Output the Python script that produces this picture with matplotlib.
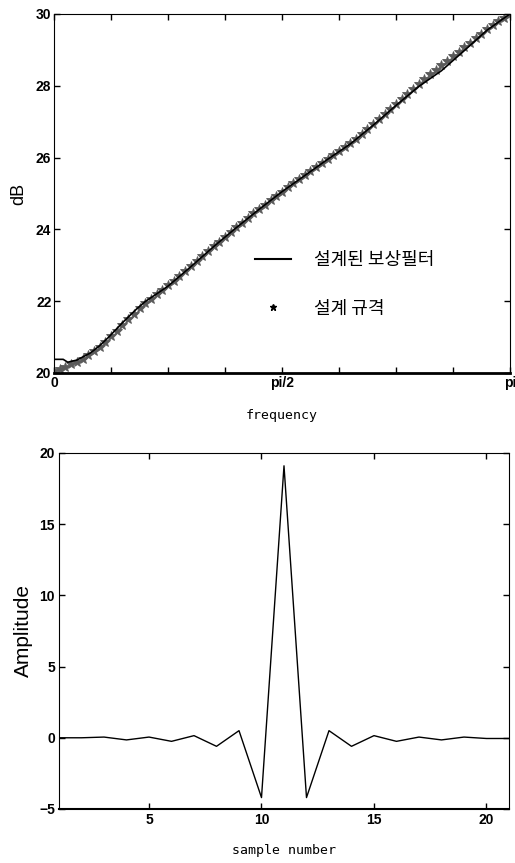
import numpy as np
import matplotlib
matplotlib.use("Agg")
import matplotlib.pyplot as plt
from matplotlib.lines import Line2D

# ---- data: top panel (frequency response, dB) ----
spec_freq = [k / 80 for k in range(81)]  # fraction of pi
spec_db = [20.05, 20.12, 20.18, 20.25, 20.32, 20.40, 20.50, 20.60, 20.72, 20.86,
           21.02, 21.18, 21.34, 21.50, 21.65, 21.80, 21.94, 22.07, 22.19, 22.31,
           22.44, 22.57, 22.70, 22.84, 22.98, 23.12, 23.26, 23.40, 23.53, 23.66,
           23.80, 23.93, 24.06, 24.19, 24.32, 24.45, 24.57, 24.69, 24.81, 24.93,
           25.05, 25.17, 25.28, 25.40, 25.51, 25.63, 25.74, 25.85, 25.96, 26.07,
           26.18, 26.29, 26.41, 26.53, 26.66, 26.80, 26.94, 27.08, 27.22, 27.36,
           27.50, 27.64, 27.78, 27.92, 28.06, 28.19, 28.32, 28.45, 28.57, 28.69,
           28.82, 28.95, 29.08, 29.20, 29.33, 29.45, 29.57, 29.69, 29.80, 29.90,
           30.00]
filt_freq = [0.0, 0.02, 0.03, 0.05, 0.08, 0.10, 0.12, 0.15, 0.18, 0.20, 0.22, 0.25,
             0.30, 0.35, 0.40, 0.45, 0.50, 0.55, 0.60, 0.65, 0.70, 0.75, 0.80,
             0.85, 0.90, 0.95, 1.0]
filt_db = [20.38, 20.38, 20.30, 20.36, 20.56, 20.76, 21.00, 21.40, 21.77, 21.99,
           22.16, 22.42, 22.96, 23.52, 24.05, 24.56, 25.05, 25.50, 25.95, 26.38,
           26.90, 27.45, 27.98, 28.42, 28.98, 29.55, 30.00]
legend_labels = ["설계된 보상필터", "설계 규격"]
x_tick_labels_top = ["0", "pi/2", "pi"]

# ---- data: bottom panel (impulse response) ----
samples = list(range(1, 22))
amplitude = [0.0, 0.0, 0.05, -0.15, 0.05, -0.25, 0.15, -0.6, 0.5, -4.2, 19.1,
             -4.2, 0.5, -0.6, 0.15, -0.25, 0.05, -0.15, 0.05, -0.05, -0.05]

plt.rcParams['font.family'] = ['Liberation Sans', 'Noto Sans CJK KR', 'DejaVu Sans']

fig = plt.figure(figsize=(5.15, 8.63), dpi=100)

# ---------- top ----------
ax1 = fig.add_axes([0.105, 0.5678, 0.885, 0.416])
xs = np.array(spec_freq) * np.pi
ax1.plot(xs, spec_db, linestyle='none', marker='*', markersize=7.5,
         color='#5a5a5a', markeredgewidth=0.6)
ax1.plot(np.array(filt_freq) * np.pi, filt_db, color='black', linewidth=1.2)
ax1.set_xlim(0, np.pi)
ax1.set_ylim(20, 30)
ticks = np.arange(9) * np.pi / 8
ax1.set_xticks(ticks)
ax1.set_xticklabels([x_tick_labels_top[0], '', '', '', x_tick_labels_top[1],
                     '', '', '', x_tick_labels_top[2]])
ax1.set_yticks([20, 22, 24, 26, 28, 30])
ax1.tick_params(direction='in', top=True, right=True, length=4, width=1,
                labelsize=10, pad=2)
for lab in ax1.get_xticklabels() + ax1.get_yticklabels():
    lab.set_fontweight('bold')
ax1.spines['bottom'].set_linewidth(2)
ax1.set_ylabel('dB', fontsize=13, labelpad=6)
ax1.set_xlabel('frequency', fontsize=9.5, family='DejaVu Sans Mono', labelpad=14)

handles = [Line2D([], [], color='black', linewidth=1.5),
           Line2D([], [], linestyle='none', marker='*', color='black', markersize=5)]
leg = ax1.legend(handles, legend_labels, loc='upper left',
                 bbox_to_anchor=(0.405, 0.385), frameon=False, labelspacing=1.7,
                 handlelength=2.0, handletextpad=1.3,
                 prop={'family': 'Noto Sans CJK KR', 'size': 13})

# ---------- bottom ----------
ax2 = fig.add_axes([0.1146, 0.0626, 0.8737, 0.4125])
ax2.plot(samples, amplitude, color='black', linewidth=1.0)
ax2.set_xlim(1, 21)
ax2.set_ylim(-5, 20)
ax2.set_xticks([5, 10, 15, 20])
ax2.set_yticks([-5, 0, 5, 10, 15, 20])
ax2.tick_params(direction='in', top=True, right=True, length=4, width=1,
                labelsize=10, pad=3)
for lab in ax2.get_xticklabels() + ax2.get_yticklabels():
    lab.set_fontweight('bold')
ax2.spines['bottom'].set_linewidth(1.5)
ax2.set_ylabel('Amplitude', fontsize=15, labelpad=4)
ax2.set_xlabel('sample number', fontsize=9.5, family='DejaVu Sans Mono', labelpad=12)

fig.savefig('out.png', dpi=100)
